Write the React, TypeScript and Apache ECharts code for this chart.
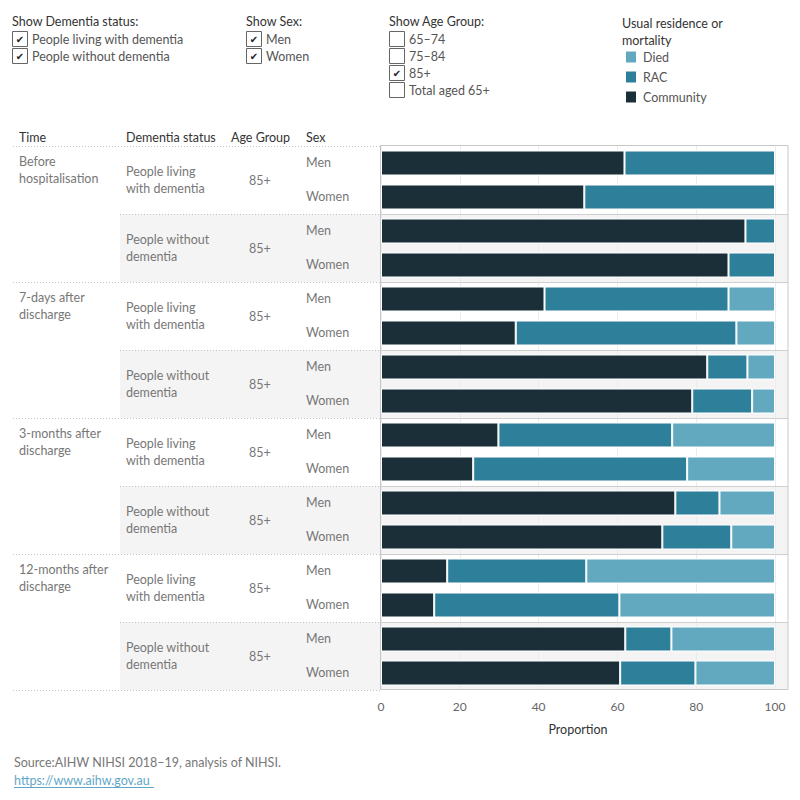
import React, { useEffect, useRef } from "react";
import * as echarts from "echarts";

const times = ["Before\nhospitalisation", "7-days after\ndischarge", "3-months after\ndischarge", "12-months after\ndischarge"];
const statuses = ["People living\nwith dementia", "People without\ndementia"];
const ageGroup = "85+";
const sexes = ["Men", "Women"];
const seriesNames = ["Community", "RAC", "Died"];
const community = [61.8, 51.6, 92.5, 88.2, 41.5, 34.2, 82.8, 79.0, 29.8, 23.4, 74.7, 71.4, 16.8, 13.5, 62.0, 60.7];
const rac = [38.2, 48.4, 7.5, 11.8, 46.7, 56.0, 10.2, 15.2, 44.1, 54.3, 11.2, 17.5, 35.3, 47.0, 11.7, 19.1];
const died = [null, null, null, null, 11.8, 9.8, 7.0, 5.8, 26.1, 22.3, 14.1, 11.1, 47.9, 39.5, 26.3, 20.2];
const xTicks = [0, 20, 40, 60, 80, 100];
const dementiaFilter = ["People living with dementia", "People without dementia"];
const sexFilter = ["Men", "Women"];
const ageFilter = ["65–74", "75–84", "85+", "Total aged 65+"];
const ageChecked = [false, false, true, false];

const COLORS: Record<string, string> = { Community: "#1b2f38", RAC: "#2e7f9a", Died: "#62a9c0" };
const FONT = "Lato, 'Noto Sans', sans-serif";

const GRID_TOP = 146;
const GRID_LEFT = 381;
const GRID_RIGHT_PX = 775;
const ROW_H = 34;
const GROUP_H = 68;
const PANE_RIGHT = 788;

export default function App() {
  const ref = useRef<HTMLDivElement>(null);
  useEffect(() => {
    document.body.style.margin = "0";
    const chart = echarts.init(ref.current!, null, { renderer: "svg" });
    const rows: string[] = [];
    times.forEach((t) => statuses.forEach((s) => sexes.forEach((x) => rows.push(`${t}|${s}|${x}`))));
    const nGroups = times.length * statuses.length;
    const gridH = rows.length * ROW_H;
    const g: any[] = [];

    // gray bands
    for (let i = 0; i < nGroups; i++) {
      if (i % 2 === 1) {
        g.push({ type: "rect", z: -5, shape: { x: 120, y: GRID_TOP + i * GROUP_H, width: PANE_RIGHT - 120, height: GROUP_H }, style: { fill: "#f4f4f4" } });
      }
    }
    // pane separators
    for (let i = 1; i < nGroups; i++) {
      const y = GRID_TOP + i * GROUP_H + 0.5;
      g.push({ type: "line", z: 1, shape: { x1: 380, y1: y, x2: PANE_RIGHT, y2: y }, style: { stroke: "#cfcfcf", lineWidth: 1 } });
    }
    // dotted left lines
    for (let i = 0; i <= nGroups; i++) {
      const y = GRID_TOP + i * GROUP_H + 0.5;
      const x1 = i % 2 === 0 ? 13 : 120;
      g.push({ type: "line", z: 1, shape: { x1, y1: y, x2: 380, y2: y }, style: { stroke: "#c4c4c4", lineWidth: 1, lineDash: [1, 2] } });
    }
    // pane border
    g.push({ type: "rect", z: 1, shape: { x: 380.5, y: GRID_TOP - 0.5, width: PANE_RIGHT - 380.5, height: gridH }, style: { fill: "none", stroke: "#c8c8c8", lineWidth: 1 } });

    // headers
    const hdr = [["Time", 19], ["Dementia status", 126], ["Age Group", 231], ["Sex", 306]];
    hdr.forEach(([t, x]) => g.push({ type: "text", x, y: 137, style: { text: t, fill: "#333", font: `12.5px ${FONT}`, verticalAlign: "middle" } }));

    // table body
    times.forEach((t, ti) => {
      const top = GRID_TOP + ti * 2 * GROUP_H;
      g.push({ type: "text", x: 19, y: top + 7, style: { text: t, fill: "#777", font: `12.5px ${FONT}`, lineHeight: 17, verticalAlign: "top" } });
      statuses.forEach((s, si) => {
        const gt = top + si * GROUP_H;
        g.push({ type: "text", x: 126, y: gt + GROUP_H / 2, style: { text: s, fill: "#777", font: `12.5px ${FONT}`, lineHeight: 17, verticalAlign: "middle" } });
        g.push({ type: "text", x: 249, y: gt + GROUP_H / 2, style: { text: ageGroup, fill: "#777", font: `12.5px ${FONT}`, verticalAlign: "middle" } });
        sexes.forEach((x, xi) => {
          g.push({ type: "text", x: 306, y: gt + xi * ROW_H + ROW_H / 2 - 1, style: { text: x, fill: "#777", font: `12.5px ${FONT}`, verticalAlign: "middle" } });
        });
      });
    });

    // filters
    const checkbox = (x: number, y: number, label: string, checked: boolean) => {
      g.push({ type: "rect", shape: { x: x + 0.5, y: y + 0.5, width: 15, height: 15 }, style: { fill: "#fff", stroke: "#666", lineWidth: 1 } });
      if (checked) g.push({ type: "text", x: x + 8, y: y + 8.5, style: { text: "✔", fill: "#222", font: `10px 'DejaVu Sans'`, align: "center", verticalAlign: "middle" } });
      g.push({ type: "text", x: x + 20, y: y + 8, style: { text: label, fill: "#555", font: `12.5px ${FONT}`, verticalAlign: "middle" } });
    };
    g.push({ type: "text", x: 12, y: 21, style: { text: "Show Dementia status:", fill: "#333", font: `12.5px ${FONT}`, verticalAlign: "middle" } });
    dementiaFilter.forEach((l, i) => checkbox(12, 31 + i * 17, l, true));
    g.push({ type: "text", x: 246, y: 21, style: { text: "Show Sex:", fill: "#333", font: `12.5px ${FONT}`, verticalAlign: "middle" } });
    sexFilter.forEach((l, i) => checkbox(246, 31 + i * 17, l, true));
    g.push({ type: "text", x: 389, y: 21, style: { text: "Show Age Group:", fill: "#333", font: `12.5px ${FONT}`, verticalAlign: "middle" } });
    ageFilter.forEach((l, i) => checkbox(389, 31 + i * 17, l, ageChecked[i]));

    // legend
    g.push({ type: "text", x: 622, y: 15, style: { text: "Usual residence or\nmortality", fill: "#333", font: `12.5px ${FONT}`, lineHeight: 17, verticalAlign: "top" } });
    ["Died", "RAC", "Community"].forEach((n, i) => {
      const cy = 57 + i * 20;
      g.push({ type: "rect", shape: { x: 626, y: cy - 5.5, width: 10, height: 11 }, style: { fill: COLORS[n] } });
      g.push({ type: "text", x: 643, y: cy, style: { text: n, fill: "#555", font: `12.5px ${FONT}`, verticalAlign: "middle" } });
    });

    // source
    g.push({ type: "text", x: 14, y: 762, style: { text: "Source:AIHW NIHSI 2018–19, analysis of NIHSI.", fill: "#777", font: `12.5px ${FONT}`, verticalAlign: "middle" } });
    g.push({ type: "text", x: 14, y: 780, style: { text: "https://www.aihw.gov.au", fill: "#5fa7c7", font: `12.5px ${FONT}`, verticalAlign: "middle" } });
    g.push({ type: "line", shape: { x1: 14, y1: 787.5, x2: 154, y2: 787.5 }, style: { stroke: "#5fa7c7", lineWidth: 1 } });

    const dataSets = [community, rac, died];
    chart.setOption({
      animation: false,
      grid: { left: GRID_LEFT, right: 800 - GRID_RIGHT_PX, top: GRID_TOP, height: gridH, containLabel: false },
      xAxis: {
        type: "value", min: xTicks[0], max: xTicks[xTicks.length - 1], interval: 20,
        axisLine: { show: false }, axisTick: { show: false },
        axisLabel: { color: "#666", fontSize: 12, fontFamily: FONT, margin: 10 },
        splitLine: { show: true, lineStyle: { color: "#ececec", width: 1 } },
        name: "Proportion", nameLocation: "middle", nameGap: 33,
        nameTextStyle: { color: "#333", fontSize: 12.5, fontFamily: FONT },
      },
      yAxis: {
        type: "category", data: rows, inverse: true,
        axisLine: { show: false }, axisTick: { show: false }, axisLabel: { show: false }, splitLine: { show: false },
      },
      series: seriesNames.map((n, i) => ({
        name: n, type: "bar", stack: "total", barWidth: 25, data: dataSets[i],
        itemStyle: { color: COLORS[n], borderColor: "#fff", borderWidth: 1 },
      })),
      graphic: { elements: g },
    });
    return () => chart.dispose();
  }, []);
  return <div ref={ref} style={{ width: 800, height: 800 }} />;
}
